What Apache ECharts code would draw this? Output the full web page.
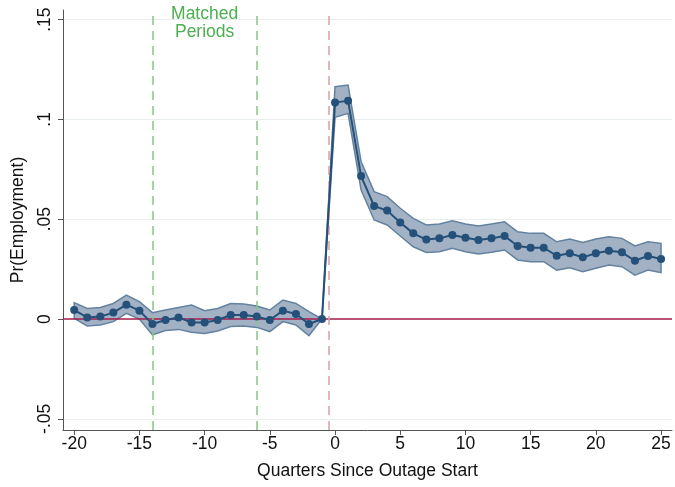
<!DOCTYPE html>
<html>
<head>
<meta charset="utf-8">
<script src="https://cdn.jsdelivr.net/npm/echarts@6/dist/echarts.min.js"></script>
<style>html,body{margin:0;padding:0;background:#fff}#c{width:675px;height:487px}</style>
</head>
<body>
<div id="c"></div>
<script>
var quarters = [-20,-19,-18,-17,-16,-15,-14,-13,-12,-11,-10,-9,-8,-7,-6,-5,-4,-3,-2,-1,0,1,2,3,4,5,6,7,8,9,10,11,12,13,14,15,16,17,18,19,20,21,22,23,24,25];
var estimate = [0.0045,0.0008,0.0012,0.0032,0.0072,0.0042,-0.0025,-0.0005,0.0008,-0.0018,-0.0018,-0.0005,0.0020,0.0020,0.0012,-0.0005,0.0042,0.0025,-0.0025,0.0000,
  0.1084,0.1094,0.0716,0.0566,0.0543,0.0483,0.0429,0.0398,0.0404,0.0421,0.0407,0.0396,0.0404,0.0416,0.0366,0.0357,0.0357,0.0317,0.0329,0.0309,0.0329,0.0342,0.0334,0.0292,0.0316,0.0301];
var upper = [0.0082,0.0053,0.0058,0.0078,0.0120,0.0087,0.0032,0.0045,0.0058,0.0070,0.0042,0.0053,0.0078,0.0075,0.0065,0.0045,0.0095,0.0078,0.0037,0.0000,
  0.1164,0.1172,0.0788,0.0638,0.0613,0.0555,0.0504,0.0471,0.0476,0.0492,0.0476,0.0466,0.0476,0.0487,0.0437,0.0429,0.0429,0.0387,0.0401,0.0384,0.0401,0.0412,0.0404,0.0366,0.0387,0.0379];
var lower = [0.0003,-0.0035,-0.0030,-0.0013,0.0028,0.0000,-0.0080,-0.0058,-0.0052,-0.0066,-0.0072,-0.0060,-0.0038,-0.0035,-0.0042,-0.0063,-0.0013,-0.0030,-0.0083,0.0000,
  0.1010,0.1030,0.0646,0.0496,0.0471,0.0416,0.0362,0.0333,0.0337,0.0354,0.0337,0.0326,0.0334,0.0346,0.0296,0.0287,0.0287,0.0245,0.0257,0.0237,0.0254,0.0271,0.0262,0.0220,0.0245,0.0232];
var xTicks = [-20,-15,-10,-5,0,5,10,15,20,25];
var yTicks = [-0.05,0,0.05,0.1,0.15];
var yTickLabels = ['-.05','0','.05','.1','.15'];
var gridValues = [-0.05,0.05,0.1,0.15];
var matchedLines = [-14,-6];
var outageLine = -0.5;
var matchedLabelPos = [-10, 0.1483];

var font = 'Liberation Sans, Arial, sans-serif';
var fs = 17.5;
var lineData = quarters.map(function(q,i){return [q, estimate[i]];});
var bandData = quarters.map(function(q,i){return [q, lower[i], upper[i]];});

var chart = echarts.init(document.getElementById('c'), null, {renderer:'canvas'});
chart.setOption({
  animation: false,
  backgroundColor: '#ffffff',
  grid: {left: 63, right: 3, top: 10, bottom: 57},
  xAxis: {
    type: 'value', min: -20.86, max: 25.84,
    name: 'Quarters Since Outage Start', nameLocation: 'middle', nameGap: 32,
    nameTextStyle: {fontFamily: font, fontSize: fs, color: '#111'},
    axisLine: {show: true, onZero: false, lineStyle: {color: '#555', width: 1}},
    axisTick: {show: true, length: 5, lineStyle: {color: '#555'}, customValues: xTicks},
    axisLabel: {fontFamily: font, fontSize: fs, color: '#111', margin: 5, customValues: xTicks,
      formatter: function(v){return String(v);}},
    splitLine: {show: false}
  },
  yAxis: {
    type: 'value', min: -0.0556, max: 0.1548,
    name: 'Pr(Employment)', nameLocation: 'middle', nameGap: 36, nameRotate: 90,
    nameTextStyle: {fontFamily: font, fontSize: fs, color: '#111'},
    axisLine: {show: true, onZero: false, lineStyle: {color: '#555', width: 1}},
    axisTick: {show: true, length: 5, lineStyle: {color: '#555'}, customValues: yTicks},
    axisLabel: {fontFamily: font, fontSize: fs, color: '#111', rotate: 90, margin: 9, customValues: yTicks,
      formatter: function(v){
        for (var i=0;i<yTicks.length;i++){ if (Math.abs(v-yTicks[i])<1e-9) return yTickLabels[i]; }
        return '';
      }},
    splitLine: {show: false}
  },
  series: [
    {
      type: 'line', data: [], silent: true, z: 0,
      markLine: {
        symbol: 'none', silent: true, label: {show: false}, z: 0,
        data: gridValues.map(function(v){return {yAxis: v, lineStyle: {color: '#e8eeee', width: 1, type: 'solid'}};})
      }
    },
    {
      type: 'custom', silent: true, z: 2,
      data: bandData,
      encode: {x: 0, y: [1, 2]},
      renderItem: function(params, api){
        if (params.dataIndex !== 0) return null;
        var pts = [];
        for (var i=0;i<bandData.length;i++) pts.push(api.coord([bandData[i][0], bandData[i][2]]));
        for (var j=bandData.length-1;j>=0;j--) pts.push(api.coord([bandData[j][0], bandData[j][1]]));
        return {type: 'polygon', shape: {points: pts}, style: {fill: '#a2b2c4', stroke: '#6382a0', lineWidth: 1.5}};
      }
    },
    {
      type: 'line', data: [], silent: true, z: 3,
      markLine: {
        symbol: 'none', silent: true, label: {show: false}, z: 3,
        data: [{yAxis: 0, lineStyle: {color: '#a31d4a', width: 1.5, type: 'solid'}}]
          .concat(matchedLines.map(function(v){return {xAxis: v, lineStyle: {color: '#86c686', width: 1.5, type: [9,6]}};}))
          .concat([{xAxis: outageLine, lineStyle: {color: '#d9a0a6', width: 1.5, type: [9,6]}}])
      }
    },
    {
      type: 'line', data: lineData, z: 4, silent: true,
      symbol: 'circle', symbolSize: 8, showSymbol: true,
      itemStyle: {color: '#24507a'},
      lineStyle: {color: '#24507a', width: 2},
      markPoint: {
        silent: true,
        data: [{coord: matchedLabelPos, symbol: 'circle', symbolSize: 0,
          label: {show: true, position: 'inside', formatter: 'Matched\nPeriods', color: '#4caf50', fontFamily: font, fontSize: fs, lineHeight: 18}}]
      }
    }
  ]
});
</script>
</body>
</html>
